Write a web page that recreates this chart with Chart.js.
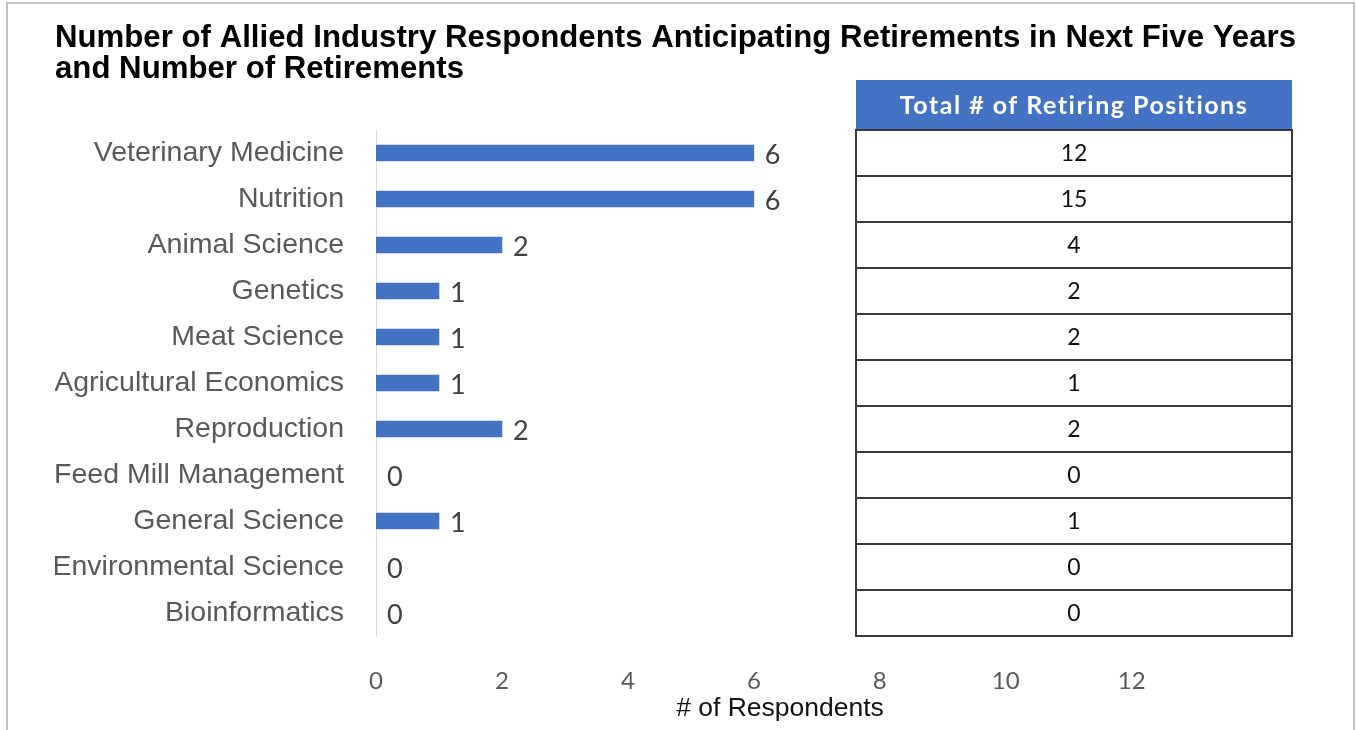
<!DOCTYPE html>
<html>
<head>
<meta charset="utf-8">
<title>Allied Industry Retirements</title>
<script src="https://cdn.jsdelivr.net/npm/chart.js@4.4.1/dist/chart.umd.min.js"></script>
<style>
  html, body { margin: 0; padding: 0; background: #fff; overflow: hidden; }
  #wrap { position: relative; width: 1356px; height: 730px; }
</style>
</head>
<body>
<div id="wrap"><canvas id="chart" width="1356" height="730"></canvas></div>
<script>
  'use strict';

  // ── Data ──────────────────────────────────────────────────────────

  var CATEGORIES = [
    'Veterinary Medicine',
    'Nutrition',
    'Animal Science',
    'Genetics',
    'Meat Science',
    'Agricultural Economics',
    'Reproduction',
    'Feed Mill Management',
    'General Science',
    'Environmental Science',
    'Bioinformatics'
  ];

  var RESPONDENTS = [6, 6, 2, 1, 1, 1, 2, 0, 1, 0, 0];
  var RETIRING    = [12, 15, 4, 2, 2, 1, 2, 0, 1, 0, 0];
  var X_TICKS     = [0, 2, 4, 6, 8, 10, 12];

  var TITLE_LINES = [
    'Number of Allied Industry Respondents Anticipating Retirements in Next Five Years',
    'and Number of Retirements'
  ];
  var X_TITLE      = '# of Respondents';
  var TABLE_HEADER = 'Total # of Retiring Positions';

  // ── Colors / layout ───────────────────────────────────────────────

  var BLUE       = '#4472C4';
  var LABEL_GRAY = '#595959';
  var TABLE_LEFT  = 856;
  var TABLE_RIGHT = 1292;
  var HEADER_H    = 50;
  var TITLE_X     = 55;
  var TITLE_WIDTH = 1241;   // first title line spans the frame width

  // white page, thin outer frame, two-line title
  var framePlugin = {
    id: 'frame',
    beforeDraw: function (chart) {
      var ctx = chart.ctx;
      ctx.save();
      ctx.fillStyle = '#fff';
      ctx.fillRect(0, 0, chart.width, chart.height);
      ctx.strokeStyle = '#c3c3c3';
      ctx.lineWidth = 2;
      ctx.strokeRect(7, 3, 1347, 800);

      ctx.font = 'bold 31px "Liberation Sans", Arial, sans-serif';
      ctx.fillStyle = '#000';
      ctx.textAlign = 'left';
      ctx.textBaseline = 'alphabetic';
      var sx = TITLE_WIDTH / ctx.measureText(TITLE_LINES[0]).width;
      ctx.translate(TITLE_X, 0);
      ctx.scale(sx, 1);
      ctx.fillText(TITLE_LINES[0], 0, 47);
      ctx.fillText(TITLE_LINES[1], 0, 78);
      ctx.restore();
    }
  };

  // value labels at the end of each bar
  var barLabelPlugin = {
    id: 'barLabels',
    afterDatasetsDraw: function (chart) {
      var ctx = chart.ctx;
      var meta = chart.getDatasetMeta(0);
      ctx.save();
      ctx.font = '27px Lato';
      ctx.fillStyle = '#404040';
      ctx.textAlign = 'left';
      ctx.textBaseline = 'middle';
      meta.data.forEach(function (bar, i) {
        ctx.fillText(String(RESPONDENTS[i]), bar.x + 11, bar.y + 2);
      });
      ctx.restore();
    }
  };

  // side table, one row per category
  var tablePlugin = {
    id: 'retiringTable',
    afterDraw: function (chart) {
      var ctx = chart.ctx;
      var y = chart.scales.y;
      var half = (y.getPixelForValue(1) - y.getPixelForValue(0)) / 2;
      var top = chart.chartArea.top;
      var width = TABLE_RIGHT - TABLE_LEFT;
      var cx = (TABLE_LEFT + TABLE_RIGHT) / 2;

      ctx.save();
      ctx.fillStyle = BLUE;
      ctx.fillRect(TABLE_LEFT, top - HEADER_H, width, HEADER_H);
      ctx.fillStyle = '#fff';
      ctx.font = 'bold 25px Lato';
      ctx.letterSpacing = '1.5px';
      ctx.textAlign = 'center';
      ctx.textBaseline = 'middle';
      ctx.fillText(TABLE_HEADER, cx, top - HEADER_H / 2 + 1);
      ctx.letterSpacing = '0px';

      ctx.strokeStyle = '#3a3a3a';
      ctx.lineWidth = 2;
      ctx.font = '23px Lato';
      ctx.fillStyle = '#111';
      for (var i = 0; i < RETIRING.length; i++) {
        var c = y.getPixelForValue(i);
        ctx.strokeRect(TABLE_LEFT, Math.round(c - half), width, Math.round(2 * half));
        ctx.fillText(String(RETIRING[i]), cx, c + 1);
      }
      ctx.restore();
    }
  };

  new Chart(document.getElementById('chart'), {
    type: 'bar',
    data: {
      labels: CATEGORIES,
      datasets: [{
        data: RESPONDENTS,
        backgroundColor: function (c) {
          return c.raw > 0 ? BLUE : 'rgba(0,0,0,0)';
        },
        barThickness: 16
      }]
    },
    options: {
      indexAxis: 'y',
      responsive: false,
      animation: false,
      layout: { padding: { left: 55, right: 172, top: 130, bottom: 0 } },
      plugins: {
        legend: { display: false },
        tooltip: { enabled: false },
        title: { display: false }
      },
      scales: {
        x: {
          min: 0,
          max: 12.83,
          grid: { display: false, drawTicks: false },
          border: { display: false },
          afterBuildTicks: function (s) {
            s.ticks = X_TICKS.map(function (v) { return { value: v }; });
          },
          afterFit: function (s) { s.height = 94; },
          ticks: {
            autoSkip: false,
            maxRotation: 0,
            padding: 31,
            color: LABEL_GRAY,
            font: { family: 'Lato', size: 24 }
          },
          title: {
            display: true,
            text: X_TITLE,
            color: '#111',
            font: { family: 'Liberation Sans', size: 26.5 },
            padding: { top: 0, bottom: 5 }
          }
        },
        y: {
          grid: { display: false, drawTicks: false },
          border: { display: true, color: '#d9d9d9', width: 1 },
          afterFit: function (s) { s.width = 321; },
          ticks: {
            autoSkip: false,
            padding: 32,
            color: LABEL_GRAY,
            font: { family: 'Liberation Sans', size: 28.5 }
          }
        }
      }
    },
    plugins: [framePlugin, barLabelPlugin, tablePlugin]
  });
</script>
</body>
</html>
